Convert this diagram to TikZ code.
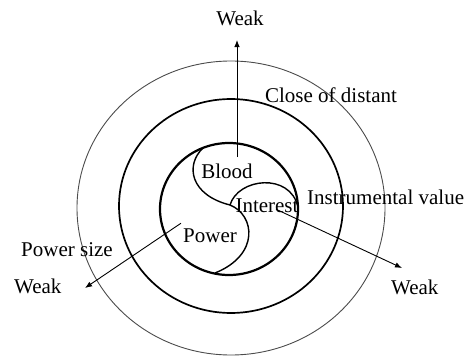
\documentclass[tikz,border=0pt]{standalone}
\usepackage{fontspec}
\setmainfont{Liberation Serif}
\usetikzlibrary{arrows.meta, calc}

\begin{document}
\begin{tikzpicture}[x=1pt, y=-1pt,
    ring/.style={draw=black!70, line width=0.9pt},
    band/.style={draw, line width=1.7pt},
    core/.style={draw, line width=2.2pt},
    split/.style={draw, line width=1.4pt},
    lbl/.style={font=\fontsize{21}{25}\selectfont, inner sep=0pt, anchor=base},
    arr/.style={-{Latex[length=7pt, width=5.5pt]}, line width=0.9pt},
]
\useasboundingbox (0,0) rectangle (464,356);

% Three rings
\draw[ring] (231,208) ellipse [x radius=154pt, y radius=147pt];
\draw[band] (231,206) ellipse [x radius=112pt, y radius=107pt];
\draw[core] (229,209) ellipse [x radius=69pt, y radius=66pt];

% Inner division of the core
\coordinate (mid) at (230,205);
\draw[split] (203,148) .. controls (185,165) and (190,195) .. (mid)
             .. controls (255,215) and (260,255) .. (215,273);
\draw[split] (mid) .. controls (238,178) and (290,172) .. (298,207);

% Labels
\node[lbl] (weakT) at (240,26) {Weak};
\node[lbl] (close) at (331,102) {Close of distant};
\node[lbl] (blood) at (227,178) {Blood};
\node[lbl] (interest) at (267,212) {Interest};
\node[lbl, anchor=base west] (instr) at (307,204) {Instrumental value};
\node[lbl] (power) at (210,242) {Power};
\node[lbl, anchor=base west] (psize) at (21,256) {Power size};
\node[lbl, anchor=base west] (weakL) at (14,293) {Weak};
\node[lbl, anchor=base west] (weakR) at (391,294) {Weak};

% Arrow tips
\coordinate (tipT) at (237,40);
\coordinate (tipL) at (85,288);
\coordinate (tipR) at (402,268);

\draw[arr] ($(blood.north -| tipT)+(0,-6)$) -- (tipT);
\draw[arr] ($(power.west)+(-2,-12)$) -- (tipL);
\draw[arr] ($(interest.center)+(9,4)$) -- (tipR);

\end{tikzpicture}
\end{document}
